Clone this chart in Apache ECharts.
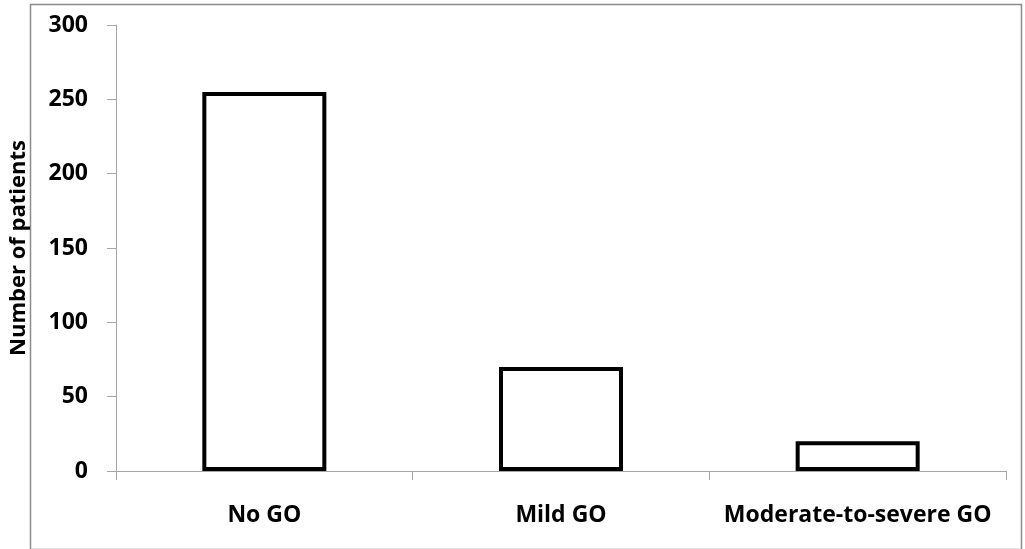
<!DOCTYPE html>
<html>
<head>
<meta charset="utf-8">
<script src="https://cdn.jsdelivr.net/npm/echarts@6/dist/echarts.min.js"></script>
<style>
html,body{margin:0;padding:0;background:#fff;}
#chart{width:1025px;height:549px;}
</style>
</head>
<body>
<div id="chart"></div>
<script>
const categories = ['No GO', 'Mild GO', 'Moderate-to-severe GO'];
const patients = [255, 70, 20];
const yTicks = [0, 50, 100, 150, 200, 250, 300];

const font = '"Open Sans", "Liberation Sans", sans-serif';
const chart = echarts.init(document.getElementById('chart'), null, {renderer: 'canvas'});
chart.setOption({
  animation: false,
  backgroundColor: '#fff',
  graphic: [{
    type: 'rect',
    left: 28, top: 2,
    shape: {width: 991, height: 545},
    style: {fill: 'none', stroke: '#8c8c8c', lineWidth: 1.5},
    z: -1
  }],
  grid: {left: 112, right: 19, top: 25, bottom: 78, containLabel: false},
  xAxis: {
    type: 'category',
    data: categories,
    axisLine: {lineStyle: {color: '#a6a6a6', width: 1}},
    axisTick: {show: true, length: 9, lineStyle: {color: '#a6a6a6'}},
    axisLabel: {color: '#000', fontFamily: font, fontWeight: 'bold', fontSize: 23, margin: 33, interval: 0, hideOverlap: false}
  },
  yAxis: {
    type: 'value',
    min: yTicks[0], max: yTicks[yTicks.length - 1], interval: 50,
    name: 'Number of patients',
    nameLocation: 'middle',
    nameGap: 86,
    nameRotate: 90,
    nameTextStyle: {color: '#000', fontFamily: font, fontWeight: 'bold', fontSize: 22},
    axisLine: {show: true, lineStyle: {color: '#a6a6a6', width: 1}},
    axisTick: {show: true, length: 9, lineStyle: {color: '#a6a6a6'}},
    splitLine: {show: false},
    axisLabel: {color: '#000', fontFamily: font, fontWeight: 'bold', fontSize: 23, margin: 28}
  },
  series: [{
    type: 'bar',
    data: patients,
    barWidth: 124,
    itemStyle: {color: '#fff', borderColor: '#000', borderWidth: 4}
  }]
});
</script>
</body>
</html>
